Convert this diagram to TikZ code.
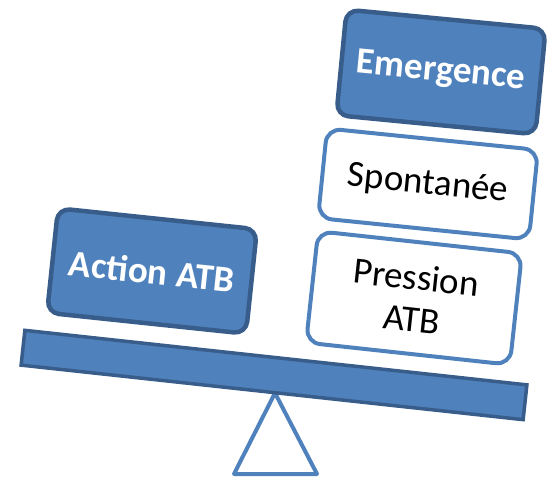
\documentclass[tikz,border=0pt]{standalone}
\usepackage{fontspec}
\setmainfont{Carlito}
\definecolor{boxblue}{HTML}{4F81BD}
\definecolor{edgeblue}{HTML}{385D8A}
\begin{document}
\begin{tikzpicture}[x=1pt,y=-1pt,
  filledbox/.style={rectangle, rounded corners=12pt, fill=boxblue, draw=edgeblue,
    line width=4.5pt, text=white, font=\fontsize{37}{42}\selectfont\bfseries},
  plainbox/.style={rectangle, rounded corners=14pt, fill=white, draw=boxblue,
    line width=4pt, text=black, align=center, font=\fontsize{37}{42}\selectfont},
  plank/.style={rectangle, fill=boxblue, draw=edgeblue, line width=3.5pt}]
\useasboundingbox (0,0) rectangle (552,481);
% fulcrum
\draw[draw=boxblue, line width=4pt, fill=white, line join=round]
  (275,393) coordinate (apex) -- (234,474) coordinate (bl) -- (317,474) coordinate (br) -- cycle;
% plank
\node[plank, minimum width=505pt, minimum height=35pt, rotate=-6.2] (bar) at (274,375) {};
% weights on the left
\node[filledbox, minimum width=200pt, minimum height=105pt, rotate=-6] (action) at (152,271) {Action ATB};
% stack on the right
\node[plainbox, minimum width=205pt, minimum height=112pt, rotate=-6.2] (pression) at (414,298) {Pression\\ATB};
\node[plainbox, minimum width=212pt, minimum height=90pt, rotate=-5.8] (spont) at (428,184) {Spontanée};
\node[filledbox, minimum width=200pt, minimum height=106pt, rotate=-5.5] (emerg) at (441,72) {Emergence};
\end{tikzpicture}
\end{document}
